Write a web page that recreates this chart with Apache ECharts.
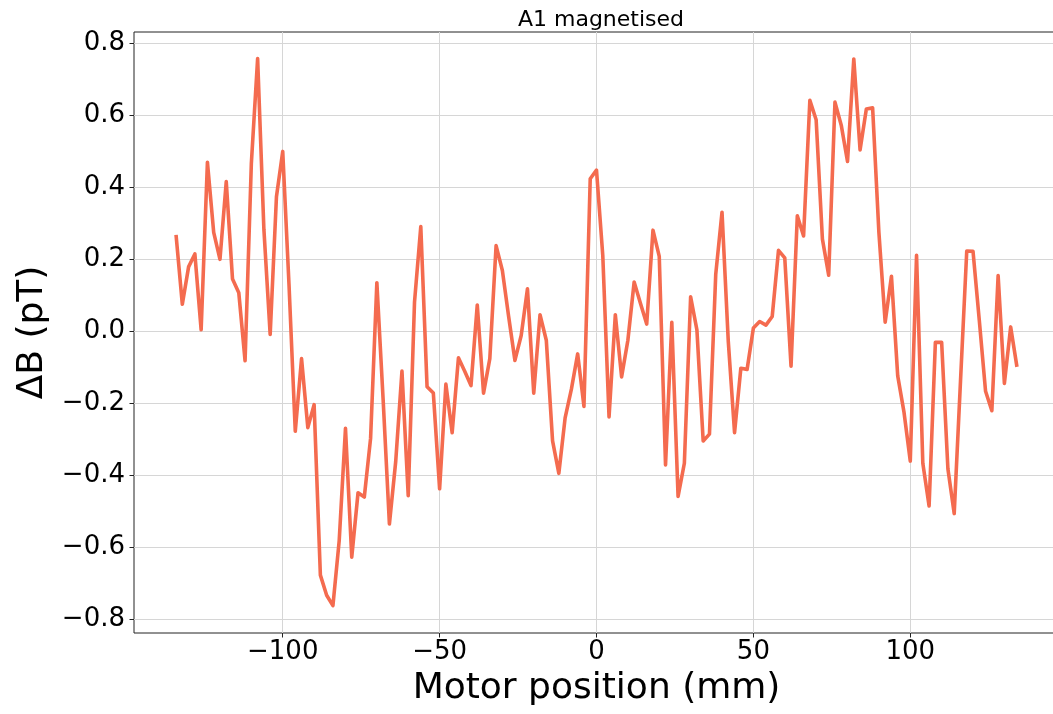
<!DOCTYPE html>
<html>
<head>
<meta charset="utf-8">
<script src="https://cdn.jsdelivr.net/npm/echarts@6/dist/echarts.min.js"></script>
<style>
  html, body { margin: 0; padding: 0; background: #fff; }
  #chart { width: 1053px; height: 714px; }
</style>
</head>
<body>
<div id="chart"></div>
<script>
// motor positions (mm)
const positions = [
  -134, -132, -130, -128, -126, -124, -122, -120, -118, -116, -114, -112, -110, -108, -106, -104,
  -102, -100, -98, -96, -94, -92, -90, -88, -86, -84, -82, -80, -78, -76, -74, -72,
  -70, -68, -66, -64, -62, -60, -58, -56, -54, -52, -50, -48, -46, -44, -42, -40,
  -38, -36, -34, -32, -30, -28, -26, -24, -22, -20, -18, -16, -14, -12, -10, -8,
  -6, -4, -2, 0, 2, 4, 6, 8, 10, 12, 14, 16, 18, 20, 22, 24,
  26, 28, 30, 32, 34, 36, 38, 40, 42, 44, 46, 48, 50, 52, 54, 56,
  58, 60, 62, 64, 66, 68, 70, 72, 74, 76, 78, 80, 82, 84, 86, 88,
  90, 92, 94, 96, 98, 100, 102, 104, 106, 108, 110, 112, 114, 116, 118, 120,
  122, 124, 126, 128, 130, 132, 134
];
// delta B (pT)
const deltaB = [
  0.268, 0.075, 0.179, 0.215, 0.004, 0.470, 0.275, 0.200, 0.416, 0.145, 0.107, -0.082, 0.467, 0.758, 0.283, -0.009,
  0.374, 0.500, 0.130, -0.278, -0.076, -0.268, -0.204, -0.678, -0.734, -0.763, -0.582, -0.270, -0.628, -0.449, -0.461, -0.298,
  0.135, -0.190, -0.536, -0.363, -0.111, -0.457, 0.081, 0.291, -0.154, -0.172, -0.438, -0.147, -0.282, -0.074, -0.111, -0.151,
  0.073, -0.172, -0.076, 0.238, 0.169, 0.041, -0.081, -0.012, 0.118, -0.172, 0.046, -0.025, -0.305, -0.395, -0.241, -0.161,
  -0.063, -0.209, 0.424, 0.448, 0.211, -0.238, 0.046, -0.127, -0.025, 0.137, 0.078, 0.020, 0.281, 0.208, -0.372, 0.025,
  -0.459, -0.367, 0.096, 0.004, -0.305, -0.286, 0.158, 0.331, -0.028, -0.282, -0.103, -0.106, 0.009, 0.027, 0.017, 0.041,
  0.225, 0.204, -0.097, 0.321, 0.265, 0.642, 0.588, 0.256, 0.156, 0.637, 0.573, 0.472, 0.757, 0.504, 0.618, 0.621,
  0.275, 0.025, 0.153, -0.124, -0.225, -0.361, 0.211, -0.367, -0.486, -0.031, -0.031, -0.383, -0.507, -0.140, 0.223, 0.222,
  0.030, -0.167, -0.221, 0.155, -0.145, 0.012, -0.099
];
// tick labels
const xTicks = [-100, -50, 0, 50, 100];
const yTicks = [-0.8, -0.6, -0.4, -0.2, 0, 0.2, 0.4, 0.6, 0.8];

const FONT = 'DejaVu Sans';
const minus = s => String(s).replace('-', '\u2212');

const getOption = () => {
  return {
    animation: false,
    backgroundColor: '#fff',
    title: {
      text: 'A1 magnetised',
      left: 596,
      top: 4,
      textAlign: 'center',
      textStyle: { fontFamily: FONT, fontSize: 22, fontWeight: 'normal', color: '#000' }
    },
    grid: {
      left: 134,
      top: 32,
      width: 925,
      height: 601,
      outerBoundsMode: 'none',
      show: true,
      borderWidth: 1,
      borderColor: '#222',
      backgroundColor: 'transparent'
    },
    xAxis: {
      type: 'value',
      min: -147.4,
      max: 147.4,
      name: 'Motor position (mm)',
      nameLocation: 'middle',
      nameGap: 38,
      nameTextStyle: { fontFamily: FONT, fontSize: 36, color: '#000' },
      axisLine: { show: false, onZero: false },
      axisTick: { show: true, length: 4.5, customValues: xTicks, lineStyle: { color: '#222' } },
      axisLabel: {
        fontFamily: FONT, fontSize: 26, color: '#000', margin: 6,
        customValues: xTicks,
        formatter: v => minus(v)
      },
      splitLine: { show: true, lineStyle: { color: '#d6d6d6', width: 1 } }
    },
    yAxis: {
      type: 'value',
      min: -0.839,
      max: 0.832,
      name: '\u0394B (pT)',
      nameLocation: 'middle',
      nameGap: 82,
      nameTextStyle: { fontFamily: FONT, fontSize: 36, color: '#000' },
      axisLine: { show: false, onZero: false },
      axisTick: { show: true, length: 4.5, customValues: yTicks, lineStyle: { color: '#222' } },
      axisLabel: {
        fontFamily: FONT, fontSize: 26, color: '#000', margin: 9,
        customValues: yTicks,
        formatter: v => minus((Math.round(v * 10) / 10 + 0).toFixed(1))
      },
      splitLine: { show: true, lineStyle: { color: '#d6d6d6', width: 1 } }
    },
    series: [
      {
        type: 'line',
        data: positions.map((x, i) => [x, deltaB[i]]),
        showSymbol: false,
        symbol: 'none',
        smooth: false,
        lineStyle: { color: '#f46b4f', width: 3.6, join: 'round' }
      }
    ]
  };
};

const initChart = () => {
  const chart = echarts.init(document.getElementById('chart'), null, { renderer: 'canvas' });
  chart.setOption(getOption());
};

window.addEventListener('load', () => {
  initChart();
});
</script>
</body>
</html>
